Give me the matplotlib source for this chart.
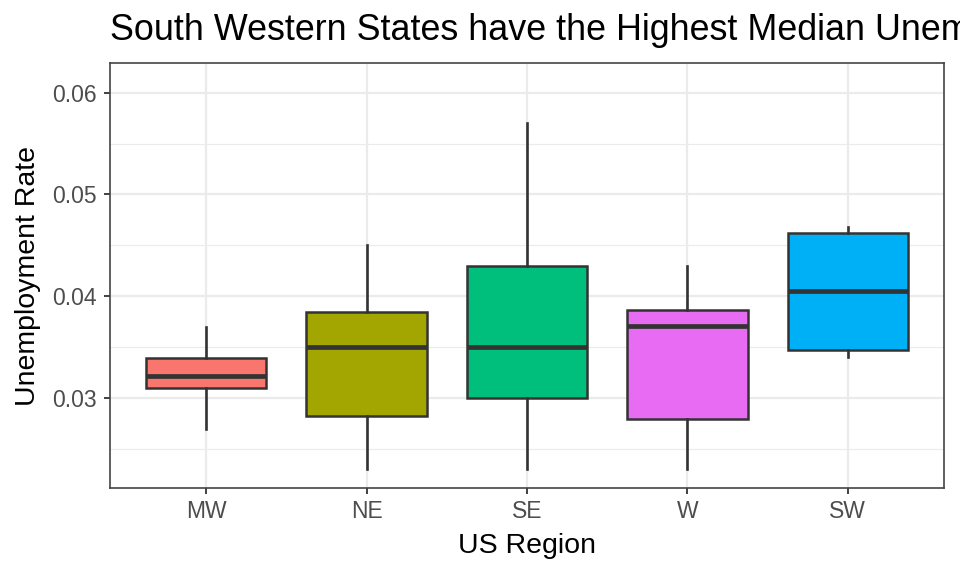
import matplotlib
matplotlib.use("Agg")
import matplotlib.pyplot as plt
import numpy as np

plt.rcParams['font.family'] = ['Liberation Sans', 'DejaVu Sans']

# boxplot summary per region
regions = ['MW', 'NE', 'SE', 'W', 'SW']
colors = ['#F8766D', '#A3A500', '#00BF7D', '#E76BF3', '#00B0F6']
whislo = [0.0270, 0.0231, 0.0231, 0.0231, 0.0341]
q1 = [0.0310, 0.0283, 0.0300, 0.0280, 0.0347]
med = [0.0322, 0.0350, 0.0350, 0.0371, 0.0405]
q3 = [0.0340, 0.0385, 0.0430, 0.0387, 0.0462]
whishi = [0.0370, 0.0450, 0.0570, 0.0430, 0.0468]

stats = []
for i in range(len(regions)):
    stats.append(dict(label=regions[i], whislo=whislo[i], q1=q1[i], med=med[i],
                      q3=q3[i], whishi=whishi[i], fliers=[]))

fig = plt.figure(figsize=(9.6, 5.76), dpi=100)
ax = fig.add_axes([110/960, 1-488/576, 834/960, 425/576])

dark = '#333333'
bp = ax.bxp(stats, positions=np.arange(1, 6), widths=0.75, patch_artist=True,
            showcaps=False,
            boxprops=dict(edgecolor=dark, linewidth=1.8),
            whiskerprops=dict(color=dark, linewidth=1.9),
            medianprops=dict(color=dark, linewidth=3.4, solid_capstyle='butt'),
            zorder=3)
for patch, c in zip(bp['boxes'], colors):
    patch.set_facecolor(c)

ax.set_xlim(0.4, 5.6)
ax.set_ylim(0.0212, 0.0629)
ax.set_yticks([0.03, 0.04, 0.05, 0.06])
ax.set_yticklabels(['0.03', '0.04', '0.05', '0.06'])
ax.set_yticks([0.025, 0.035, 0.045, 0.055], minor=True)
ax.set_xticks(np.arange(1, 6))
ax.set_xticklabels(regions)

ax.grid(which='major', color='#EBEBEB', linewidth=1.6, zorder=0)
ax.grid(which='minor', axis='y', color='#EBEBEB', linewidth=0.8, zorder=0)
ax.set_axisbelow(True)
ax.tick_params(axis='both', which='major', colors='#333333', labelcolor='#4D4D4D',
               labelsize=16.5, length=4.5, width=1.3, pad=4)
ax.tick_params(axis='y', which='major', pad=4.8)
ax.tick_params(axis='y', which='minor', length=0)
for s in ax.spines.values():
    s.set_color('#444444')
    s.set_linewidth(1.2)

ax.set_xlabel('US Region', fontsize=20.5, color='black', labelpad=7)
ax.set_ylabel('Unemployment Rate', fontsize=20.5, color='black', labelpad=8)
fig.text(110/960, 1-40/576, 'South Western States have the Highest Median Unemployment Rate',
         fontsize=25.8, va='baseline', ha='left')

fig.savefig('out.png', dpi=100)
